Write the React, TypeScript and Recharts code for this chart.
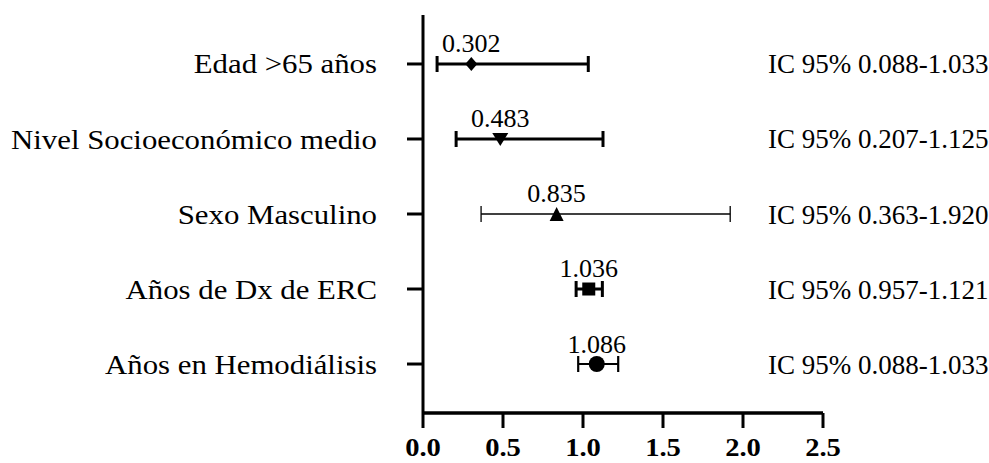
import React from 'react';
import {
	ScatterChart,
	Scatter,
	XAxis,
	YAxis,
	ErrorBar,
	LabelList,
} from 'recharts';

// Factores de riesgo, odds ratio e intervalos de confianza
const factors = [
	'Edad >65 años',
	'Nivel Socioeconómico medio',
	'Sexo Masculino',
	'Años de Dx de ERC',
	'Años en Hemodiálisis',
];
const oddsRatios = [0.302, 0.483, 0.835, 1.036, 1.086];
const ciLow = [0.088, 0.207, 0.363, 0.957, 0.97];
const ciHigh = [1.033, 1.125, 1.92, 1.121, 1.22];
const ciLabels = [
	'IC 95% 0.088-1.033',
	'IC 95% 0.207-1.125',
	'IC 95% 0.363-1.920',
	'IC 95% 0.957-1.121',
	'IC 95% 0.088-1.033',
];
const xTicks = [0, 0.5, 1, 1.5, 2, 2.5];
const rowTicks = [0, 1, 2, 3, 4];

// marker + error bar look for each row
const rowStyles = [
	{ marker: 'diamond', line: 3 },
	{ marker: 'triangleDown', line: 3 },
	{ marker: 'triangle', line: 1.3 },
	{ marker: 'square', line: 3 },
	{ marker: 'circle', line: 2.2 },
];

const font = '"Liberation Serif", "Times New Roman", serif';
// the serif text is drawn a bit wider than normal
const stretch = 1.1;

const rows = factors.map((name, i) => ({
	name,
	row: i,
	or: oddsRatios[i],
	err: [oddsRatios[i] - ciLow[i], ciHigh[i] - oddsRatios[i]],
}));

const Marker = (kind: string) => (props: any) => {
	const { cx, cy } = props;
	if (cx == null || cy == null) return null;
	switch (kind) {
		case 'diamond':
			return (
				<polygon
					points={`${cx},${cy - 7} ${cx + 6},${cy} ${cx},${cy + 7} ${cx - 6},${cy}`}
					fill='#000'
				/>
			);
		case 'triangleDown':
			return (
				<polygon
					points={`${cx - 8},${cy - 6} ${cx + 8},${cy - 6} ${cx},${cy + 7}`}
					fill='#000'
				/>
			);
		case 'triangle':
			return (
				<polygon
					points={`${cx - 7},${cy + 7} ${cx + 7},${cy + 7} ${cx},${cy - 7}`}
					fill='#000'
				/>
			);
		case 'square':
			return <rect x={cx - 6.5} y={cy - 6.5} width={13} height={13} fill='#000' />;
		default:
			return <circle cx={cx} cy={cy} r={8} fill='#000' />;
	}
};

const FactorTick = (props: any) => {
	const { x, y, payload } = props;
	return (
		<text
			transform={`translate(${x},${y}) scale(${stretch},1)`}
			dy={9.5}
			textAnchor='end'
			fontFamily={font}
			fontSize={28}
			fill='#000'
		>
			{factors[payload.value]}
		</text>
	);
};

const ValueTick = (props: any) => {
	const { x, y, payload } = props;
	return (
		<text
			transform={`translate(${x},${y}) scale(${stretch},1)`}
			dy='0.71em'
			textAnchor='middle'
			fontFamily={font}
			fontSize={26}
			fontWeight='bold'
			fill='#000'
		>
			{payload.value.toFixed(1)}
		</text>
	);
};

const CiTick = (props: any) => {
	const { x, y, payload } = props;
	return (
		<text
			x={x}
			y={y}
			dx={-63}
			dy={9.5}
			textAnchor='start'
			fontFamily={font}
			fontSize={27}
			fill='#000'
		>
			{ciLabels[payload.value]}
		</text>
	);
};

const App = () => {
	return (
		<div style={{ position: 'absolute', left: 0, top: 0, background: '#fff' }}>
			<ScatterChart
				width={989}
				height={463}
				margin={{ top: 15, right: 0, bottom: 0, left: 0 }}
			>
				<XAxis
					type='number'
					dataKey='or'
					domain={[0, 2.5]}
					ticks={xTicks}
					allowDataOverflow
					height={50}
					axisLine={{ stroke: '#000', strokeWidth: 3.5 }}
					tickLine={{ stroke: '#000', strokeWidth: 3 }}
					tickSize={15}
					tickMargin={10}
					tick={<ValueTick />}
				/>
				<YAxis
					yAxisId='left'
					type='number'
					dataKey='row'
					reversed
					domain={[-0.653, 4.653]}
					ticks={rowTicks}
					allowDataOverflow
					width={423}
					axisLine={{ stroke: '#000', strokeWidth: 3 }}
					tickLine={{ stroke: '#000', strokeWidth: 3 }}
					tickSize={16}
					tickMargin={30}
					tick={<FactorTick />}
				/>
				<YAxis
					yAxisId='right'
					orientation='right'
					type='number'
					dataKey='row'
					reversed
					domain={[-0.653, 4.653]}
					ticks={rowTicks}
					allowDataOverflow
					width={166}
					axisLine={false}
					tickLine={false}
					tick={<CiTick />}
				/>
				{rows.map((r, i) => (
					<Scatter
						key={r.name}
						yAxisId='left'
						data={[r]}
						shape={Marker(rowStyles[i].marker)}
						isAnimationActive={false}
					>
						<ErrorBar
							dataKey='err'
							direction='x'
							width={8}
							stroke='#000'
							strokeWidth={rowStyles[i].line}
							isAnimationActive={false}
						/>
						<LabelList
							dataKey='or'
							position='top'
							offset={7}
							formatter={(v: any) => Number(v).toFixed(3)}
							style={{ fill: '#000', fontSize: 26, fontFamily: font }}
						/>
					</Scatter>
				))}
			</ScatterChart>
		</div>
	);
};

export default App;
